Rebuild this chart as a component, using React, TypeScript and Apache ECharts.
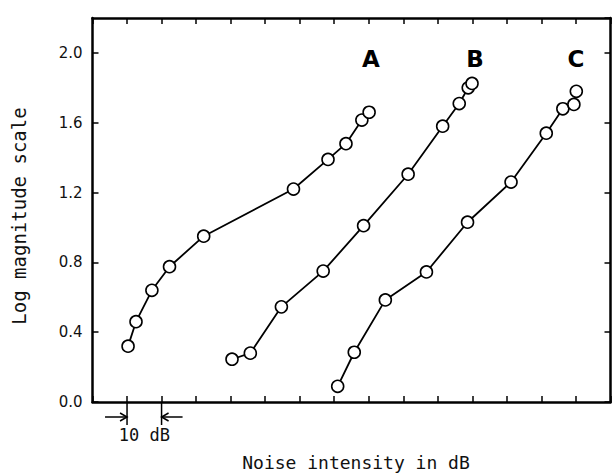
import React, { useEffect, useRef } from "react";
import * as echarts from "echarts";

// Noise intensity (relative dB, 10 dB per tick) and log magnitude values
const seriesNames = ["A", "B", "C"];
const aX = [10.3, 12.6, 17.2, 22.3, 32.2, 58.2, 68.2, 73.4, 78.0, 80.1];
const aY = [0.32, 0.46, 0.64, 0.775, 0.95, 1.22, 1.39, 1.48, 1.615, 1.66];
const bX = [40.4, 45.7, 54.7, 66.8, 78.5, 91.4, 101.4, 106.2, 108.8, 109.9];
const bY = [0.245, 0.28, 0.545, 0.75, 1.01, 1.305, 1.58, 1.71, 1.8, 1.825];
const cX = [71.0, 75.8, 84.8, 96.7, 108.6, 121.2, 131.4, 136.2, 139.4, 140.1];
const cY = [0.09, 0.285, 0.585, 0.745, 1.03, 1.26, 1.54, 1.68, 1.705, 1.78];

const xMin = 0;
const xMax = 150;
const xInterval = 10;
const yMin = 0;
const yMax = 2.2;
const yInterval = 0.4;
const noteFrom = 10;
const noteTo = 20;
const noteText = "10 dB";
const xTitle = "Noise intensity in dB";
const yTitle = "Log magnitude scale";

const mono = "'DejaVu Sans Mono', monospace";
const sans = "'DejaVu Sans', sans-serif";

function zip(xs: number[], ys: number[]) {
  return xs.map((x, i) => [x, ys[i]]);
}

export default function App() {
  const ref = useRef<HTMLDivElement>(null);
  useEffect(() => {
    if (!ref.current) return;
    const chart = echarts.init(ref.current, undefined, { renderer: "svg" });
    const axisLine = { show: true, onZero: false, lineStyle: { color: "#000", width: 2.5 } };
    const tick = { show: true, inside: true, length: 6, lineStyle: { color: "#000", width: 1.5 } };
    const xAxisBase = {
      type: "value" as const,
      min: xMin,
      max: xMax,
      interval: xInterval,
      axisLine,
      axisTick: tick,
      axisLabel: { show: false },
      splitLine: { show: false },
    };
    const yAxisBase = {
      type: "value" as const,
      min: yMin,
      max: yMax,
      interval: yInterval,
      axisLine,
      axisTick: tick,
      splitLine: { show: false },
    };
    const dataSets = [zip(aX, aY), zip(bX, bY), zip(cX, cY)];
    chart.setOption({
      animation: false,
      backgroundColor: "#fff",
      grid: { left: 92.5, right: 3.5, top: 18, bottom: 72 },
      xAxis: [
        { ...xAxisBase, position: "bottom" },
        { ...xAxisBase, position: "top" },
      ],
      yAxis: [
        {
          ...yAxisBase,
          position: "left",
          axisLabel: {
            show: true,
            margin: 10,
            showMaxLabel: false,
            color: "#111",
            fontFamily: sans,
            fontSize: 15,
            formatter: (v: number) => (v > 2.01 ? "" : v.toFixed(1)),
          },
        },
        { ...yAxisBase, position: "right", axisLabel: { show: false } },
      ],
      series: dataSets.map((d, i) => ({
        name: seriesNames[i],
        type: "line",
        data: d,
        symbol: "circle",
        symbolSize: 12,
        lineStyle: { color: "#000", width: 1.8 },
        itemStyle: { color: "#fff", borderColor: "#000", borderWidth: 1.6 },
        z: 3,
      })),
    });

    const p1 = chart.convertToPixel({ xAxisIndex: 0 }, noteFrom) as number;
    const p2 = chart.convertToPixel({ xAxisIndex: 0 }, noteTo) as number;
    const y0 = chart.convertToPixel({ yAxisIndex: 0 }, 0) as number;
    const ya = y0 + 15;
    const lineSt = { stroke: "#000", lineWidth: 1.5, fill: "none" };
    const labelX = [371, 475, 576];

    chart.setOption({
      graphic: [
        { type: "line", shape: { x1: p1, y1: y0, x2: p1, y2: y0 + 23 }, style: lineSt },
        { type: "line", shape: { x1: p2, y1: y0, x2: p2, y2: y0 + 23 }, style: lineSt },
        { type: "line", shape: { x1: p1 - 22, y1: ya, x2: p1, y2: ya }, style: lineSt },
        { type: "polyline", shape: { points: [[p1 - 7, ya - 4], [p1, ya], [p1 - 7, ya + 4]] }, style: lineSt },
        { type: "line", shape: { x1: p2 + 21, y1: ya, x2: p2, y2: ya }, style: lineSt },
        { type: "polyline", shape: { points: [[p2 + 7, ya - 4], [p2, ya], [p2 + 7, ya + 4]] }, style: lineSt },
        {
          type: "text",
          x: (p1 + p2) / 2,
          y: y0 + 33,
          style: { text: noteText, fill: "#111", font: `17px ${mono}`, align: "center", verticalAlign: "middle" },
        },
        {
          type: "text",
          x: 356,
          y: 462,
          style: { text: xTitle, fill: "#111", font: `18px ${mono}`, align: "center", verticalAlign: "middle" },
        },
        {
          type: "text",
          x: 19,
          y: 216,
          rotation: Math.PI / 2,
          style: { text: yTitle, fill: "#111", font: `19px ${mono}`, align: "center", verticalAlign: "middle" },
        },
        ...seriesNames.map((n, i) => ({
          type: "text",
          x: labelX[i],
          y: 59,
          style: { text: n, fill: "#000", font: `bold 23px ${sans}`, align: "center", verticalAlign: "middle" },
        })),
      ],
    });
    return () => chart.dispose();
  }, []);
  return (
    <div
      ref={ref}
      style={{ position: "fixed", left: 0, top: 0, width: 614, height: 474, background: "#fff" }}
    />
  );
}
